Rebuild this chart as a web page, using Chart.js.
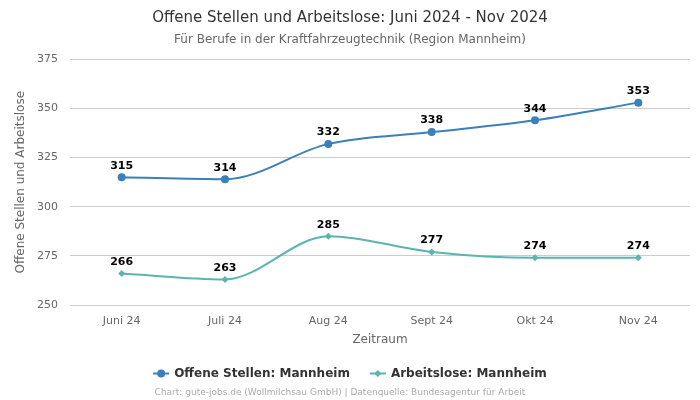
<!DOCTYPE html>
<html><head><meta charset="utf-8">
<script src="https://cdn.jsdelivr.net/npm/chart.js@4/dist/chart.umd.min.js"></script>
<style>html,body{margin:0;padding:0;background:#fff;}#c{display:block;}</style>
</head><body>
<canvas id="c" width="700" height="400"></canvas>
<script>
const categories = ["Juni 24", "Juli 24", "Aug 24", "Sept 24", "Okt 24", "Nov 24"];
const offeneStellen = [315, 314, 332, 338, 344, 353];
const arbeitslose = [266, 263, 285, 277, 274, 274];
const yTicks = [250, 275, 300, 325, 350, 375];

const FONT = "'DejaVu Sans', sans-serif";
const BLUE = "#3a80ba";
const TEAL = "#5bb5ad";

const labelPlugin = {
  id: 'valLabels',
  afterDatasetsDraw(chart) {
    const ctx = chart.ctx;
    ctx.save();
    ctx.font = "bold 11px " + FONT;
    ctx.fillStyle = "#000";
    ctx.textAlign = "center";
    ctx.textBaseline = "bottom";
    chart.data.datasets.forEach((ds, i) => {
      chart.getDatasetMeta(i).data.forEach((pt, j) => {
        ctx.fillText(String(ds.data[j]), pt.x, pt.y - 6);
      });
    });
    ctx.restore();
  }
};

const legendPlugin = {
  id: 'customLegend',
  afterDraw(chart) {
    const ctx = chart.ctx;
    ctx.save();
    ctx.font = "bold 12px " + FONT;
    ctx.textBaseline = "middle";
    const items = [
      {text: "Offene Stellen: Mannheim", color: BLUE, style: "circle"},
      {text: "Arbeitslose: Mannheim", color: TEAL, style: "rectRot"}
    ];
    const sym = 16, gap = 5, between = 20;
    const widths = items.map(it => sym + gap + ctx.measureText(it.text).width);
    const total = widths.reduce((a,b)=>a+b,0) + between;
    let x = 350 - total/2;
    const y = 373.5;
    items.forEach((it, k) => {
      ctx.strokeStyle = it.color;
      ctx.lineWidth = 2;
      ctx.beginPath(); ctx.moveTo(x, y); ctx.lineTo(x + sym, y); ctx.stroke();
      ctx.fillStyle = it.color;
      Chart.helpers.drawPoint(ctx, {pointStyle: it.style, radius: it.style === "circle" ? 4 : 3.5, borderWidth: 0}, x + sym/2, y);
      ctx.fillStyle = "#333";
      ctx.textAlign = "left";
      ctx.fillText(it.text, x + sym + gap, y);
      x += widths[k] + between;
    });
    ctx.font = "9px " + FONT;
    ctx.fillStyle = "#aaa";
    ctx.textAlign = "center";
    ctx.fillText("Chart: gute-jobs.de (Wollmilchsau GmbH) | Datenquelle: Bundesagentur für Arbeit", 340, 392.5);
    ctx.restore();
  }
};

new Chart(document.getElementById('c'), {
  type: 'line',
  data: {
    labels: categories,
    datasets: [
      {label: "Offene Stellen: Mannheim", data: offeneStellen, borderColor: BLUE, backgroundColor: BLUE,
       pointStyle: 'circle', pointRadius: 4, pointHoverRadius: 4, pointBorderWidth: 0, borderWidth: 2, cubicInterpolationMode: 'monotone'},
      {label: "Arbeitslose: Mannheim", data: arbeitslose, borderColor: TEAL, backgroundColor: TEAL,
       pointStyle: 'rectRot', pointRadius: 3.5, pointHoverRadius: 3.5, pointBorderWidth: 0, borderWidth: 2, cubicInterpolationMode: 'monotone'}
    ]
  },
  options: {
    responsive: false,
    animation: false,
    layout: {padding: {left: 10, right: 10, top: 0, bottom: 53}},
    plugins: {
      legend: {display: false},
      tooltip: {enabled: false},
      title: {display: true, text: "Offene Stellen und Arbeitslose: Juni 2024 - Nov 2024",
        color: "#333", font: {family: FONT, size: 15, weight: 'normal'}, padding: {top: 9, bottom: 4}},
      subtitle: {display: true, text: "Für Berufe in der Kraftfahrzeugtechnik (Region Mannheim)",
        color: "#666", font: {family: FONT, size: 12}, padding: {top: 2, bottom: 12}}
    },
    scales: {
      x: {
        offset: true,
        afterFit(axis) { axis.height = 42; },
        grid: {display: false, drawTicks: false},
        border: {display: false},
        ticks: {color: "#666", font: {family: FONT, size: 11}, padding: 10},
        title: {display: true, text: "Zeitraum", color: "#666", font: {family: FONT, size: 12}, padding: {top: 0, bottom: 0}}
      },
      y: {
        min: 250, max: 375,
        afterBuildTicks(axis) { axis.ticks = yTicks.map(v => ({value: v})); },
        afterFit(axis) { axis.width = 60; },
        grid: {color: "#cccccc", drawTicks: false},
        border: {display: false},
        ticks: {color: "#666", font: {family: FONT, size: 11}, padding: 12},
        title: {display: true, text: "Offene Stellen und Arbeitslose", color: "#666", font: {family: FONT, size: 12}}
      }
    }
  },
  plugins: [labelPlugin, legendPlugin]
});
</script>
</body></html>
